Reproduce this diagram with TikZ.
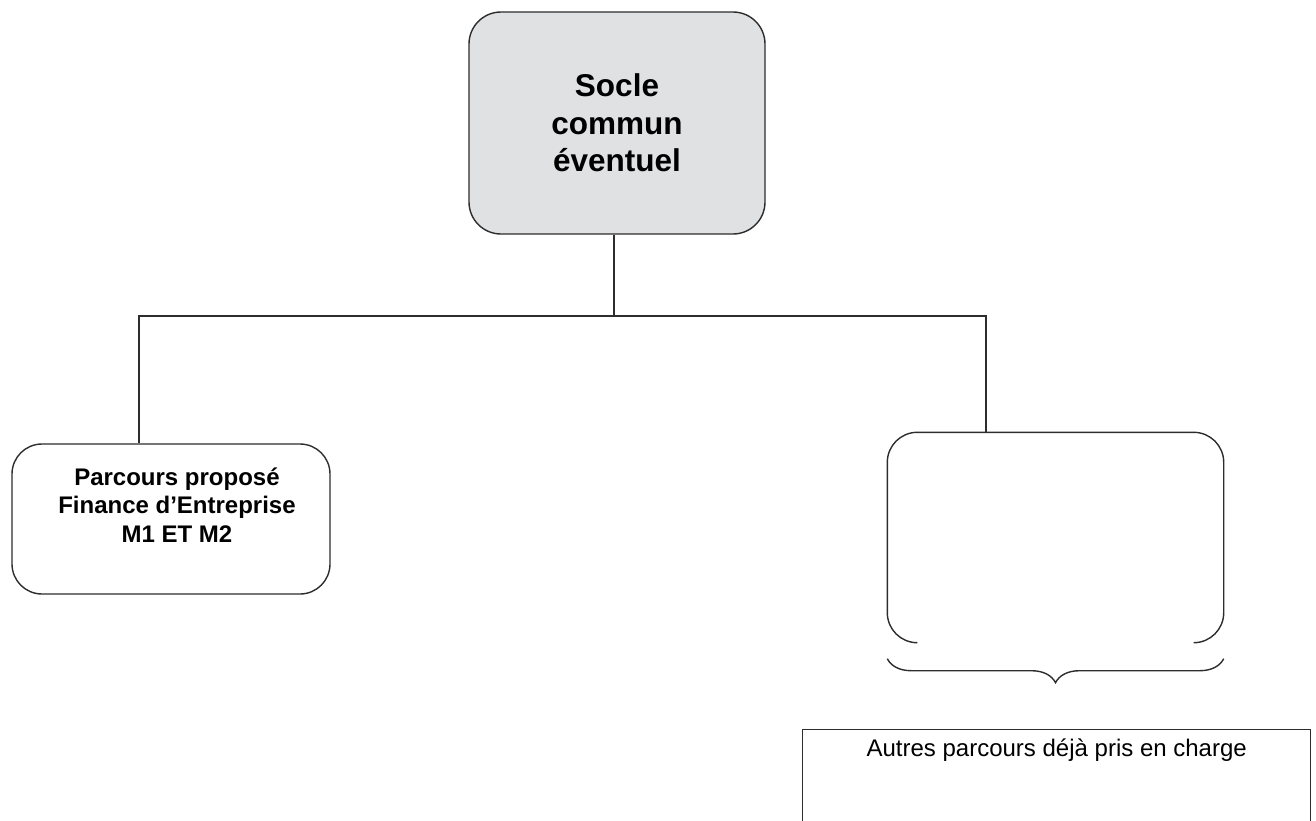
\documentclass[tikz,border=0pt]{standalone}
\usepackage{fontspec}
\setmainfont{Liberation Sans}
\usetikzlibrary{positioning,decorations.pathreplacing}
\definecolor{soclegray}{RGB}{224,225,227}
\definecolor{linegray}{RGB}{45,45,45}

\begin{document}
\begin{tikzpicture}[x=1pt,y=-1pt,line width=1.4pt,draw=linegray,
    soclebox/.style={draw,fill=soclegray,rounded corners=32pt,minimum width=296pt,minimum height=222pt,
        align=center,font=\bfseries\fontsize{31.5}{37.5}\selectfont},
    parcoursbox/.style={draw,rounded corners=30pt,minimum width=318pt,minimum height=150pt},
    parcourstext/.style={align=center,font=\bfseries\fontsize{24}{28.5}\selectfont},
    autrestext/.style={font=\fontsize{24}{28}\selectfont,inner sep=0pt}]
    \useasboundingbox (0,0) rectangle (1316,820);
    \clip (0,0) rectangle (1316,820);
    % top box
    \node (socle) [soclebox] at (617,123) {Socle\\commun\\éventuel};
    % the two branches
    \node (finance) [parcoursbox] at (171,519) {};
    \node (financetext) [parcourstext,xshift=6pt,yshift=14pt] at (finance.center)
        {Parcours proposé\\Finance d’Entreprise\\M1 ET M2};
    \node (autresbox) [minimum width=335pt,minimum height=209pt] at (1055.5,537.5) {};
    \draw[rounded corners=30pt] ([xshift=30pt]autresbox.south west) -- (autresbox.south west)
        -- (autresbox.north west) -- (autresbox.north east) -- (autresbox.south east)
        -- ([xshift=-30pt]autresbox.south east);
    % connectors
    \coordinate (split) at (614,316);
    \coordinate (leftjoin) at (139,316);
    \coordinate (rightjoin) at (986,316);
    \draw (split |- socle.south) -- (split);
    \draw (leftjoin |- finance.north) -- (leftjoin) -- (rightjoin) -- (rightjoin |- autresbox.north);
    % brace and the box below it
    \draw[decorate,decoration={brace,amplitude=24pt}]
        ([yshift=-16pt]autresbox.south east) -- ([yshift=-16pt]autresbox.south west);
    \node (autres) [draw,anchor=north west,minimum width=508pt,minimum height=130pt] at (802,729) {};
    \node (autrestitle) [autrestext,anchor=base] at ([yshift=-27pt]autres.north)
        {Autres parcours déjà pris en charge};
\end{tikzpicture}
\end{document}
